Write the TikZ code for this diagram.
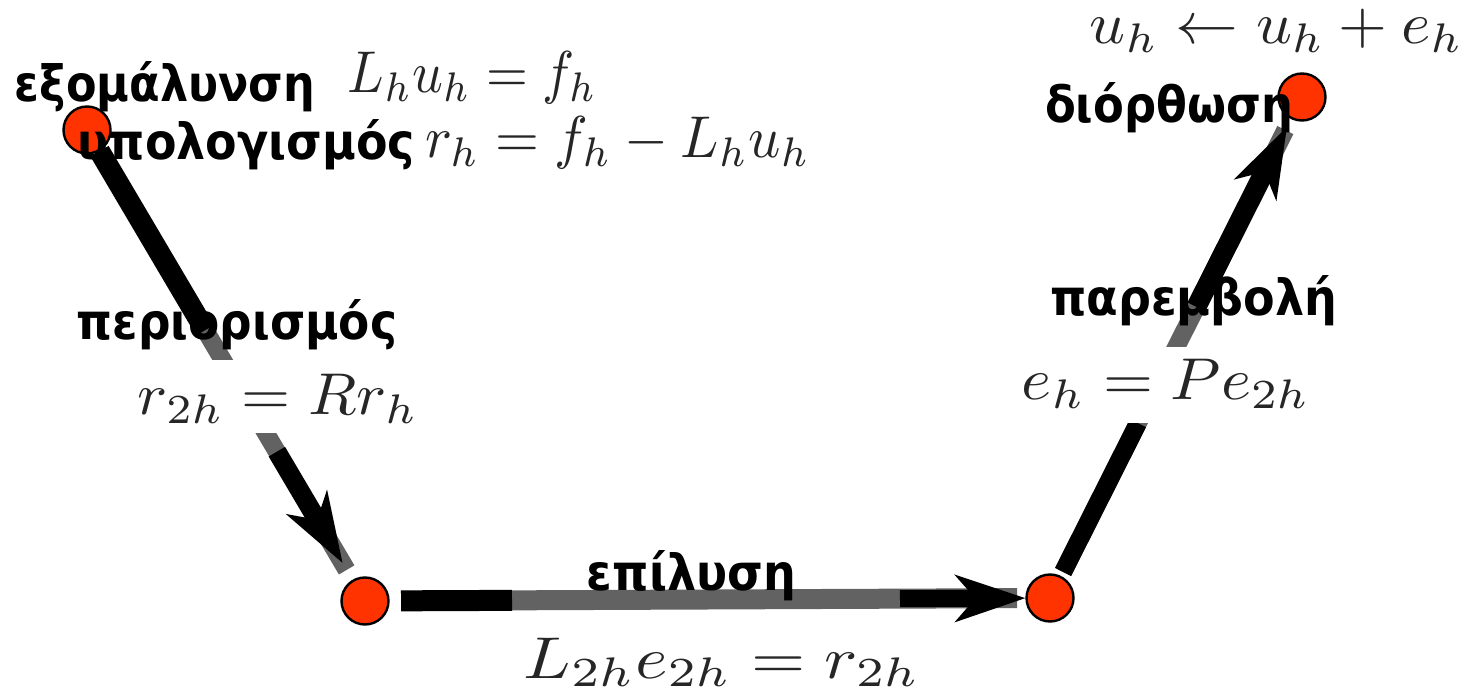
\documentclass[tikz,border=0pt]{standalone}
\usepackage{fontspec}
\usepackage{graphicx}
\newfontfamily\grk{DejaVu Sans}
\usetikzlibrary{arrows.meta,calc}
\definecolor{dotred}{RGB}{255,51,0}
\definecolor{lgray}{RGB}{98,98,98}
\newsavebox\mybx
\newlength\myht
\newcommand{\mth}[2]{\sbox\mybx{$#2$}\setlength\myht{2.95\ht\mybx}\resizebox{#1}{\myht}{\usebox\mybx}}
\newcommand{\gtxt}[2]{\sbox\mybx{\grk\bfseries\fontsize{25pt}{30pt}\selectfont #2}\setlength\myht{\ht\mybx}\resizebox{#1}{\myht}{\usebox\mybx}}
\pgfdeclarelayer{background}
\pgfsetlayers{background,main}
\tikzset{
  dot/.style={circle, draw=black, line width=1.2pt, fill=dotred, minimum size=23.5pt, inner sep=0pt},
  gline/.style={draw=lgray, line width=#1},
  bseg/.style={draw=black, line width=#1},
  barrow/.style={draw=black, line width=#1, -{Stealth[length=35.5pt, width=24pt, inset=10.5pt, line width=0pt]}},
  mlab/.style={text=black!85, inner sep=0pt, anchor=base},
  wlab/.style={mlab, fill=white, inner xsep=3pt},
  glab/.style={text=black, inner sep=0pt, anchor=base}
}
\begin{document}
\begin{tikzpicture}[x=0.5pt, y=-0.5pt]
\useasboundingbox (0,0) rectangle (1474,695);
% circles
\node[dot] (A) at (87,130) {};
\node[dot] (B) at (365,601) {};
\node[dot] (C) at (1050,598) {};
\node[dot] (D) at (1302,97) {};
% connectors
\begin{pgfonlayer}{background}
% A -> B
\draw[gline=9pt] (A) -- ($(A)!0.934!(B)$);
\draw[bseg=10.5pt] (A) -- ($(A)!0.425!(B)$);
\draw[barrow=9.5pt] ($(A)!0.683!(B)$) -- ($(A)!0.919!(B)$);
% B -> C
\draw[gline=10pt] ($(B)!0.0526!(C)$) -- ($(B)!0.952!(C)$);
\draw[bseg=10.5pt] ($(B)!0.0526!(C)$) -- ($(B)!0.2146!(C)$);
\draw[barrow=8.5pt] ($(B)!0.781!(C)$) -- (C);
% C -> D
\draw[gline=9pt] ($(C)!0.052!(D)$) -- ($(C)!0.934!(D)$);
\draw[bseg=9pt] ($(C)!0.052!(D)$) -- ($(C)!0.349!(D)$);
\draw[barrow=10pt] ($(C)!0.581!(D)$) -- ($(C)!0.940!(D)$);
\end{pgfonlayer}
% math labels
\node[mlab] (m1) at (472.5,93) {\mth{124.5pt}{L_hu_h=f_h}};
\node[mlab] (m2) at (617.5,158) {\mth{192.5pt}{r_h=f_h-L_hu_h}};
\node[wlab, text height=27.5pt, text depth=9pt] (m3) at (278,415) {\mth{140pt}{r_{2h}=Rr_h}};
\node[mlab] (m4) at (722,678) {\mth{198pt}{L_{2h}e_{2h}=r_{2h}}};
\node[wlab, text height=26.5pt, text depth=11.5pt] (m5) at (1166,400) {\mth{144pt}{e_h=Pe_{2h}}};
\node[mlab] (m6) at (1276.5,44) {\mth{186.5pt}{u_h\leftarrow u_h+e_h}};
% greek labels
\node[glab] (t1) at (165,102) {\gtxt{150pt}{εξομάλυνση}};
\node[glab] (t2) at (246.5,160) {\gtxt{168.5pt}{υπολογισμός}};
\node[glab] (t3) at (237,340) {\gtxt{160pt}{περιορισμός}};
\node[glab] (t4) at (691.5,590) {\gtxt{104.5pt}{επίλυση}};
\node[glab] (t5) at (1169,123) {\gtxt{124pt}{διόρθωση}};
\node[glab] (t6) at (1193.5,315) {\gtxt{143.5pt}{παρεμβολή}};
\end{tikzpicture}
\end{document}
